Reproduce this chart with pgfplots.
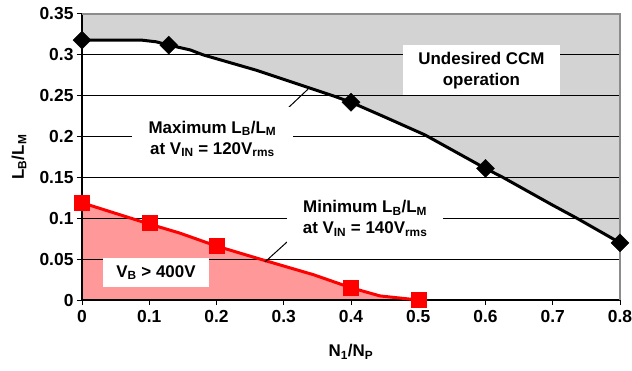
\documentclass[border=0pt]{standalone}
\usepackage{fontspec}
\setmainfont{Liberation Sans}
\usepackage{pgfplots}
\pgfplotsset{compat=1.18}
\definecolor{ccmgray}{RGB}{211,211,211}
\definecolor{redfill}{RGB}{255,153,153}
\definecolor{bordergray}{RGB}{140,140,140}
\begin{document}
\begin{tikzpicture}
\begin{axis}[
  set layers,
  scale only axis, width=538bp, height=286bp,
  xmin=0, xmax=0.8, ymin=0, ymax=0.35,
  clip=false,
  xtick={0,0.1,0.2,0.3,0.4,0.5,0.6,0.7,0.8},
  xticklabels={0,0.1,0.2,0.3,0.4,0.5,0.6,0.7,0.8},
  ytick={0,0.05,0.1,0.15,0.2,0.25,0.3,0.35},
  yticklabels={0,0.05,0.1,0.15,0.2,0.25,0.3,0.35},
  axis x line*=bottom, axis y line*=left,
  axis line style={black, line width=1.2bp},
  ymajorgrids, grid style={black, line width=0.9bp},
  tick align=outside, major tick length=5bp,
  tick style={black, line width=1bp},
  ticklabel style={font=\bfseries\fontsize{17.5}{20}\selectfont},
  xticklabel style={yshift=-2bp},
  label style={font=\bfseries\fontsize{17}{20}\selectfont},
  xlabel={N\textsubscript{1}/N\textsubscript{P}},
  ylabel={L\textsubscript{B}/L\textsubscript{M}},
  xlabel style={at={(axis description cs:0.5,-0.182)}, anchor=center},
  ylabel style={at={(axis description cs:-0.117,0.5)}, anchor=center},
]
\draw[bordergray, line width=1.5bp] (rel axis cs:0,1) -- (rel axis cs:1,1) -- (rel axis cs:1,0);
% gray region above maximum curve
\addplot[draw=none, fill=ccmgray, on layer=axis background] coordinates {
 (0,0.35) (0,0.318) (0.089,0.318) (0.11,0.316) (0.129,0.312) (0.161,0.306) (0.18,0.300)
 (0.26,0.281) (0.30,0.270) (0.373,0.250) (0.4,0.242) (0.45,0.224) (0.51,0.202)
 (0.6,0.161) (0.626,0.150) (0.70,0.116) (0.736,0.100) (0.8,0.070) (0.8,0.35)};
% red region below minimum curve
\addplot[draw=none, fill=redfill, on layer=axis background] coordinates {
 (0,0) (0,0.119) (0.1,0.093) (0.145,0.082) (0.2,0.066) (0.265,0.050) (0.344,0.031)
 (0.4,0.015) (0.443,0.005) (0.5,0) };
% maximum curve
\addplot[black, line width=3bp, mark=none, line join=round] coordinates {
 (0,0.318) (0.089,0.318) (0.11,0.316) (0.129,0.312) (0.161,0.306) (0.18,0.300)
 (0.26,0.281) (0.30,0.270) (0.373,0.250) (0.4,0.242) (0.45,0.224) (0.51,0.202)
 (0.6,0.161) (0.626,0.150) (0.70,0.116) (0.736,0.100) (0.8,0.070)};
\addplot[only marks, mark=diamond*, mark size=9bp, mark options={xscale=1.33, fill=black, draw=black}] coordinates {
 (0,0.318) (0.129,0.312) (0.4,0.242) (0.6,0.161) (0.8,0.070)};
% minimum curve
\addplot[red, line width=3bp, mark=none, line join=round] coordinates {
 (0,0.119) (0.1,0.093) (0.145,0.082) (0.2,0.066) (0.265,0.050) (0.344,0.031)
 (0.4,0.015) (0.443,0.005) (0.5,0)};
\addplot[only marks, mark=square*, mark size=7.5bp, mark options={fill=red, draw=red}] coordinates {
 (0,0.119) (0.1,0.094) (0.2,0.066) (0.4,0.015) (0.5,0)};
% leader lines
\draw[black, line width=1bp] (axis cs:0.284,0.2176) -- (axis cs:0.336,0.258);
\draw[black, line width=1bp] (axis cs:0.321,0.083) -- (axis cs:0.272,0.0465);
\coordinate (cmax) at (axis cs:0.194,0.197);
\coordinate (cmin) at (axis cs:0.421,0.100);
\coordinate (cund) at (axis cs:0.594,0.281);
\coordinate (cvb) at (axis cs:0.110,0.0336);
\coordinate (SW) at (rel axis cs:0,0);
\coordinate (NE) at (rel axis cs:1,1);
\end{axis}
\tikzset{lab/.style={fill=white, align=center, inner sep=0pt, font=\bfseries\fontsize{17}{21}\selectfont}}
\node[lab, minimum width=161bp, minimum height=64bp] at (cmax) {Maximum L\textsubscript{B}/L\textsubscript{M}\\at V\textsubscript{IN} = 120V\textsubscript{rms}};
\node[lab, minimum width=156bp, minimum height=62bp] at (cmin) {Minimum L\textsubscript{B}/L\textsubscript{M}\\at V\textsubscript{IN} = 140V\textsubscript{rms}};
\node[lab, minimum width=157bp, minimum height=50bp] at (cund) {Undesired CCM\\operation};
\node[lab, minimum width=106bp, minimum height=29bp] at (cvb) {V\textsubscript{B} > 400V};
\pgfresetboundingbox
\path[use as bounding box] ([shift={(-82bp,-71bp)}]SW) rectangle ([shift={(12bp,14bp)}]NE);
\end{tikzpicture}
\end{document}
